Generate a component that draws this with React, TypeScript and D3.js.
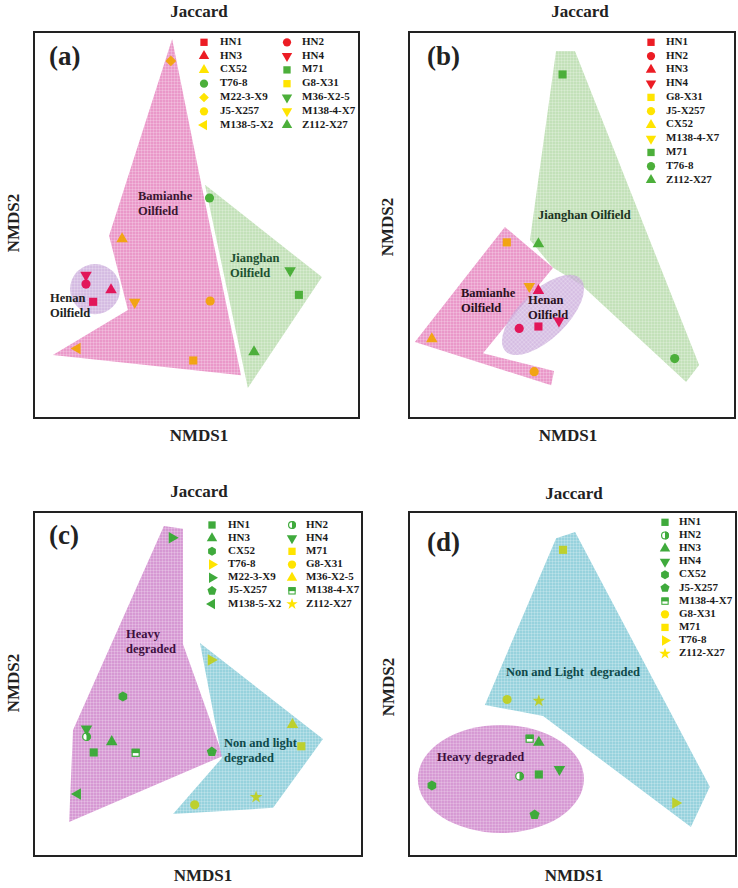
import React, {useEffect, useRef} from 'react';
import * as d3 from 'd3';

// NMDS ordination used in panels (a) and (c)
const samplesA = ["HN1", "HN2", "HN3", "HN4", "CX52", "M71", "T76-8", "G8-X31", "M22-3-X9", "M36-X2-5", "J5-X257", "M138-4-X7", "M138-5-X2", "Z112-X27"];
const nmds1A = [-0.318, -0.340, -0.263, -0.340, -0.229, 0.315, 0.040, -0.010, -0.079, 0.288, 0.042, -0.190, -0.367, 0.177];
const nmds2A = [-0.199, -0.153, -0.168, -0.130, -0.036, -0.181, 0.070, -0.351, 0.425, -0.118, -0.197, -0.200, -0.320, -0.329];

// NMDS ordination used in panels (b) and (d)
const samplesB = ["HN1", "HN2", "HN3", "HN4", "G8-X31", "J5-X257", "CX52", "M138-4-X7", "M71", "T76-8", "Z112-X27"];
const nmds1B = [-0.103, -0.162, -0.103, -0.040, -0.200, -0.116, -0.430, -0.131, -0.029, 0.315, -0.103];
const nmds2B = [-0.263, -0.268, -0.170, -0.248, -0.045, -0.380, -0.295, -0.159, 0.390, -0.346, -0.049];

// symbols / colour groups per panel (aligned with the sample arrays)
const shapesA = ["square", "circle", "triangle", "down", "triangle", "square", "circle", "square", "diamond", "down", "circle", "down", "left", "triangle"];
const groupsA = ["red", "red", "red", "red", "yellow", "green", "green", "yellow", "yellow", "green", "yellow", "yellow", "yellow", "green"];
const shapesB = ["square", "circle", "triangle", "down", "square", "circle", "triangle", "down", "square", "circle", "triangle"];
const groupsB = ["red", "red", "red", "red", "yellow", "yellow", "yellow", "yellow", "green", "green", "green"];
const shapesC = ["square", "halfcircle", "triangle", "down", "hexagon", "square", "right", "circle", "right", "triangle", "pentagon", "halfsquare", "left", "star"];
const groupsC = ["green", "green", "green", "green", "green", "yellow", "yellow", "yellow", "green", "yellow", "green", "green", "green", "yellow"];
const shapesD = ["square", "halfcircle", "triangle", "down", "circle", "pentagon", "hexagon", "halfsquare", "square", "right", "star"];
const groupsD = ["green", "green", "green", "green", "yellow", "green", "green", "green", "yellow", "yellow", "yellow"];
const legendOrderD = ["HN1", "HN2", "HN3", "HN4", "CX52", "J5-X257", "M138-4-X7", "G8-X31", "M71", "T76-8", "Z112-X27"];

// group outlines (NMDS units)
const bamianheA = [[-0.075, 0.482], [0.014, 0.109], [0.137, -0.389], [-0.442, -0.337], [-0.211, -0.220], [-0.269, -0.028]];
const jianghanA = [[0.026, 0.104], [0.386, -0.135], [0.158, -0.422]];
const henanA = {cx: -0.312, cy: -0.166, rx: 0.077, ry: 0.065, angle: 0};
const jianghanB = [[-0.049, 0.451], [0.009, 0.451], [0.390, -0.363], [0.350, -0.407], [0.028, -0.155], [-0.058, -0.111], [-0.129, -0.039]];
const bamianheB = [[-0.206, -0.005], [-0.058, -0.111], [-0.273, -0.332], [-0.055, -0.378], [-0.064, -0.415], [-0.482, -0.303]];
const henanB = {cx: -0.089, cy: -0.233, rx: 0.160, ry: 0.062, angle: -44};
const heavyC = [[-0.104, 0.459], [-0.046, 0.451], [-0.046, 0.116], [0.076, -0.209], [-0.393, -0.401], [-0.381, -0.134]];
const lightC = [[0.006, 0.119], [0.381, -0.160], [0.229, -0.360], [-0.076, -0.378], [0.073, -0.215]];
const lightD = [[-0.050, 0.424], [0.008, 0.442], [0.420, -0.299], [0.362, -0.416], [-0.090, -0.093], [-0.268, -0.061]];
const heavyD = {cx: -0.219, cy: -0.276, rx: 0.254, ry: 0.157, angle: 0};

const legendColour: Record<string, string> = {red: "#EC1C24", yellow: "#FFE400", green: "#4CAF3A"};
const markColourAB: Record<string, string> = {red: "#E2165A", yellow: "#F2A414", green: "#4CAF3A"};
const markColourCD: Record<string, string> = {green: "#3FAA3C", yellow: "#BDD02E"};
const legendColourCD: Record<string, string> = {green: "#3FAA3C", yellow: "#FFE400"};

const FONT = "'Liberation Serif', 'Times New Roman', serif";

function regularPolygon(n: number, r: number, rot: number) {
  const pts = d3.range(n).map(i => {
    const a = rot + i * 2 * Math.PI / n;
    return [r * Math.sin(a), -r * Math.cos(a)];
  });
  return "M" + pts.map(p => p[0].toFixed(2) + "," + p[1].toFixed(2)).join("L") + "Z";
}

function drawMarker(parent: any, shape: string, colour: string, cx: number, cy: number, k: number) {
  const g = parent.append("g").attr("transform", `translate(${cx},${cy}) scale(${k})`);
  const sym = (type: any, size: number, rot = 0) =>
    g.append("path").attr("d", d3.symbol(type, size)()).attr("fill", colour)
    .attr("transform", rot ? `rotate(${rot})` : null);
  switch (shape) {
    case "square": sym(d3.symbolSquare, 66); break;
    case "circle": sym(d3.symbolCircle, 66); break;
    case "triangle": sym(d3.symbolTriangle, 58); break;
    case "down": sym(d3.symbolTriangle, 58, 180); break;
    case "left": sym(d3.symbolTriangle, 58, -90); break;
    case "right": sym(d3.symbolTriangle, 58, 90); break;
    case "diamond": sym(d3.symbolSquare, 58, 45); break;
    case "star": sym(d3.symbolStar, 50); break;
    case "hexagon": g.append("path").attr("d", regularPolygon(6, 5, 0)).attr("fill", colour); break;
    case "pentagon": g.append("path").attr("d", regularPolygon(5, 5.3, 0)).attr("fill", colour); break;
    case "halfcircle":
      g.append("circle").attr("r", 3.8).attr("fill", "#fff").attr("stroke", colour).attr("stroke-width", 1.3);
      g.append("path").attr("d", "M0,-4.4A4.4,4.4 0 0 1 0,4.4Z").attr("fill", colour);
      break;
    case "halfsquare":
      g.append("rect").attr("x", -3.5).attr("y", -3.5).attr("width", 7).attr("height", 7)
      .attr("fill", "#fff").attr("stroke", colour).attr("stroke-width", 1.2);
      g.append("rect").attr("x", -4).attr("y", -4).attr("width", 8).attr("height", 4.3).attr("fill", colour);
      break;
  }
}

interface Region {
  kind: "poly" | "ellipse";
  pts?: number[][];
  ell?: {cx: number, cy: number, rx: number, ry: number, angle: number};
  fill: string;
  opacity: number;
}

interface Panel {
  tag: string;
  box: {x: number, y: number, w: number, h: number};
  samples: string[];
  nmds1: number[];
  nmds2: number[];
  shapes: string[];
  groups: string[];
  markColour: Record<string, string>;
  legColour: Record<string, string>;
  legendOrder: string[];
  legend: {cols: number[][], y0: number, dy: number};
  regions: Region[];
  labels: {lines: string[], x: number, y: number, colour: string}[];
  title: [number, number];
  xLabel: [number, number];
  yLabel: [number, number];
  tagPos: [number, number];
}

const panels: Panel[] = [
  {
    tag: "(a)", box: {x: 34, y: 32, w: 325, h: 386},
    samples: samplesA, nmds1: nmds1A, nmds2: nmds2A, shapes: shapesA, groups: groupsA,
    markColour: markColourAB, legColour: legendColour, legendOrder: samplesA,
    legend: {cols: [[170, 186], [253, 268]], y0: 10.3, dy: 13.8},
    regions: [
      {kind: "poly", pts: bamianheA, fill: "pinkA", opacity: 1},
      {kind: "poly", pts: jianghanA, fill: "greenA", opacity: 1},
      {kind: "ellipse", ell: henanA, fill: "lavender", opacity: 0.75},
    ],
    labels: [
      {lines: ["Bamianhe", "Oilfield"], x: 104, y: 165, colour: "#3a1530"},
      {lines: ["Jianghan", "Oilfield"], x: 196, y: 227, colour: "#1d5030"},
      {lines: ["Henan", "Oilfield"], x: 16, y: 267, colour: "#222"},
    ],
    title: [199, 13], xLabel: [199, 437], yLabel: [15, 223], tagPos: [15, 27],
  },
  {
    tag: "(b)", box: {x: 409, y: 32, w: 326, h: 386},
    samples: samplesB, nmds1: nmds1B, nmds2: nmds2B, shapes: shapesB, groups: groupsB,
    markColour: markColourAB, legColour: legendColour, legendOrder: samplesB,
    legend: {cols: [[242, 257]], y0: 10.3, dy: 13.77},
    regions: [
      {kind: "poly", pts: jianghanB, fill: "greenA", opacity: 1},
      {kind: "poly", pts: bamianheB, fill: "pinkA", opacity: 1},
      {kind: "ellipse", ell: henanB, fill: "lavender", opacity: 0.72},
    ],
    labels: [
      {lines: ["Jianghan Oilfield"], x: 129, y: 184, colour: "#1c3322"},
      {lines: ["Bamianhe", "Oilfield"], x: 52, y: 262, colour: "#2a1020"},
      {lines: ["Henan", "Oilfield"], x: 119, y: 269, colour: "#2a1020"},
    ],
    title: [580, 13], xLabel: [568, 437], yLabel: [389, 227], tagPos: [18, 27],
  },
  {
    tag: "(c)", box: {x: 34, y: 512, w: 328, h: 344},
    samples: samplesA, nmds1: nmds1A, nmds2: nmds2A, shapes: shapesC, groups: groupsC,
    markColour: markColourCD, legColour: legendColourCD, legendOrder: samplesA,
    legend: {cols: [[178, 194], [258, 272]], y0: 13, dy: 13.17},
    regions: [
      {kind: "poly", pts: heavyC, fill: "orchid", opacity: 1},
      {kind: "poly", pts: lightC, fill: "cyan", opacity: 1},
    ],
    labels: [
      {lines: ["Heavy", "degraded"], x: 92, y: 123, colour: "#3d1040"},
      {lines: ["Non and light", "degraded"], x: 190, y: 232, colour: "#0e4a4a"},
    ],
    title: [199, 493], xLabel: [203, 877], yLabel: [15, 683], tagPos: [15, 26],
  },
  {
    tag: "(d)", box: {x: 409, y: 512, w: 327, h: 344},
    samples: samplesB, nmds1: nmds1B, nmds2: nmds2B, shapes: shapesD, groups: groupsD,
    markColour: markColourCD, legColour: legendColourCD, legendOrder: legendOrderD,
    legend: {cols: [[256, 270]], y0: 10.3, dy: 13.14},
    regions: [
      {kind: "poly", pts: lightD, fill: "cyan", opacity: 1},
      {kind: "ellipse", ell: heavyD, fill: "orchid", opacity: 1},
    ],
    labels: [
      {lines: ["Non and Light  degraded"], x: 97, y: 161, colour: "#0e4a4a"},
      {lines: ["Heavy degraded"], x: 28, y: 246, colour: "#3d1040"},
    ],
    title: [574, 495], xLabel: [574, 877], yLabel: [390, 687], tagPos: [18, 33],
  },
];

const fills: Record<string, string> = {
  pinkA: "#EA98C9",
  greenA: "#C3E1B9",
  lavender: "#C6A4D8",
  orchid: "#D698D3",
  cyan: "#97D2DD",
};

const App: React.FC = () => {
  const ref = useRef<SVGSVGElement>(null);

  useEffect(() => {
    const svg = d3.select(ref.current);
    svg.selectAll("*").remove();

    // mesh textures for the filled groups
    const defs = svg.append("defs");
    Object.entries(fills).forEach(([id, colour]) => {
      const p = defs.append("pattern").attr("id", "mesh-" + id)
      .attr("width", 3).attr("height", 3).attr("patternUnits", "userSpaceOnUse");
      p.append("rect").attr("width", 3).attr("height", 3).attr("fill", colour);
      p.append("path").attr("d", "M0,0.5H3M0.5,0V3")
      .attr("stroke", "#fff").attr("stroke-opacity", 0.2).attr("stroke-width", 1);
    });

    panels.forEach(panel => {
      const {box} = panel;
      const x = d3.scaleLinear().domain([-0.5, 0.5]).range([box.x, box.x + box.w]);
      const y = d3.scaleLinear().domain([-0.5, 0.5]).range([box.y + box.h, box.y]);
      const g = svg.append("g");

      // groups
      panel.regions.forEach(r => {
        if (r.kind === "poly") {
          const line = d3.line<number[]>().x(d => x(d[0])).y(d => y(d[1])).curve(d3.curveLinearClosed);
          g.append("path").attr("d", line(r.pts!))
          .attr("fill", `url(#mesh-${r.fill})`).attr("opacity", r.opacity);
        } else {
          const e = r.ell!;
          g.append("ellipse")
          .attr("cx", 0).attr("cy", 0)
          .attr("rx", e.rx * box.w).attr("ry", e.ry * box.h)
          .attr("transform", `translate(${x(e.cx)},${y(e.cy)}) rotate(${e.angle})`)
          .attr("fill", `url(#mesh-${r.fill})`).attr("opacity", r.opacity);
        }
      });

      // region labels
      panel.labels.forEach(l => {
        const t = g.append("text")
        .attr("font-family", FONT).attr("font-weight", "bold").attr("font-size", 12.5)
        .style("white-space", "pre")
        .attr("fill", l.colour);
        l.lines.forEach((s, i) => {
          t.append("tspan").attr("x", box.x + l.x).attr("y", box.y + l.y + i * 15.5)
          .attr("dominant-baseline", "middle").text(s);
        });
      });

      // samples
      panel.samples.forEach((s, i) => {
        drawMarker(g, panel.shapes[i], panel.markColour[panel.groups[i]],
          x(panel.nmds1[i]), y(panel.nmds2[i]), 1);
      });

      // legend
      const nCols = panel.legend.cols.length;
      panel.legendOrder.forEach((s, k) => {
        const i = panel.samples.indexOf(s);
        const col = nCols === 2 ? k % 2 : 0;
        const row = nCols === 2 ? Math.floor(k / 2) : k;
        const cy = box.y + panel.legend.y0 + row * panel.legend.dy;
        drawMarker(g, panel.shapes[i], panel.legColour[panel.groups[i]],
          box.x + panel.legend.cols[col][0], cy, 0.9);
        g.append("text").attr("x", box.x + panel.legend.cols[col][1]).attr("y", cy)
        .attr("dominant-baseline", "middle")
        .attr("font-family", FONT).attr("font-weight", "bold").attr("font-size", 11)
        .attr("fill", "#1a1a1a").text(s);
      });

      // panel tag
      g.append("text").attr("x", box.x + panel.tagPos[0]).attr("y", box.y + panel.tagPos[1])
      .attr("dominant-baseline", "middle")
      .attr("font-family", FONT).attr("font-weight", "bold").attr("font-size", 27)
      .attr("fill", "#222").text(panel.tag);

      // frame
      g.append("rect").attr("x", box.x).attr("y", box.y).attr("width", box.w).attr("height", box.h)
      .attr("fill", "none").attr("stroke", "#222").attr("stroke-width", 2);

      // titles
      g.append("text").attr("x", panel.title[0]).attr("y", panel.title[1])
      .attr("text-anchor", "middle").attr("dominant-baseline", "middle")
      .attr("font-family", FONT).attr("font-weight", "bold").attr("font-size", 17)
      .attr("fill", "#222").text("Jaccard");
      g.append("text").attr("x", panel.xLabel[0]).attr("y", panel.xLabel[1])
      .attr("text-anchor", "middle").attr("dominant-baseline", "middle")
      .attr("font-family", FONT).attr("font-weight", "bold").attr("font-size", 17)
      .attr("fill", "#222").text("NMDS1");
      g.append("text")
      .attr("transform", `translate(${panel.yLabel[0]},${panel.yLabel[1]}) rotate(-90)`)
      .attr("text-anchor", "middle").attr("dominant-baseline", "middle")
      .attr("font-family", FONT).attr("font-weight", "bold").attr("font-size", 17)
      .attr("fill", "#222").text("NMDS2");
    });
  }, []);

  return (
    <svg ref={ref} width={738} height={888}
         style={{position: "absolute", left: 0, top: 0, background: "#fff"}}/>
  );
};

export default App;
